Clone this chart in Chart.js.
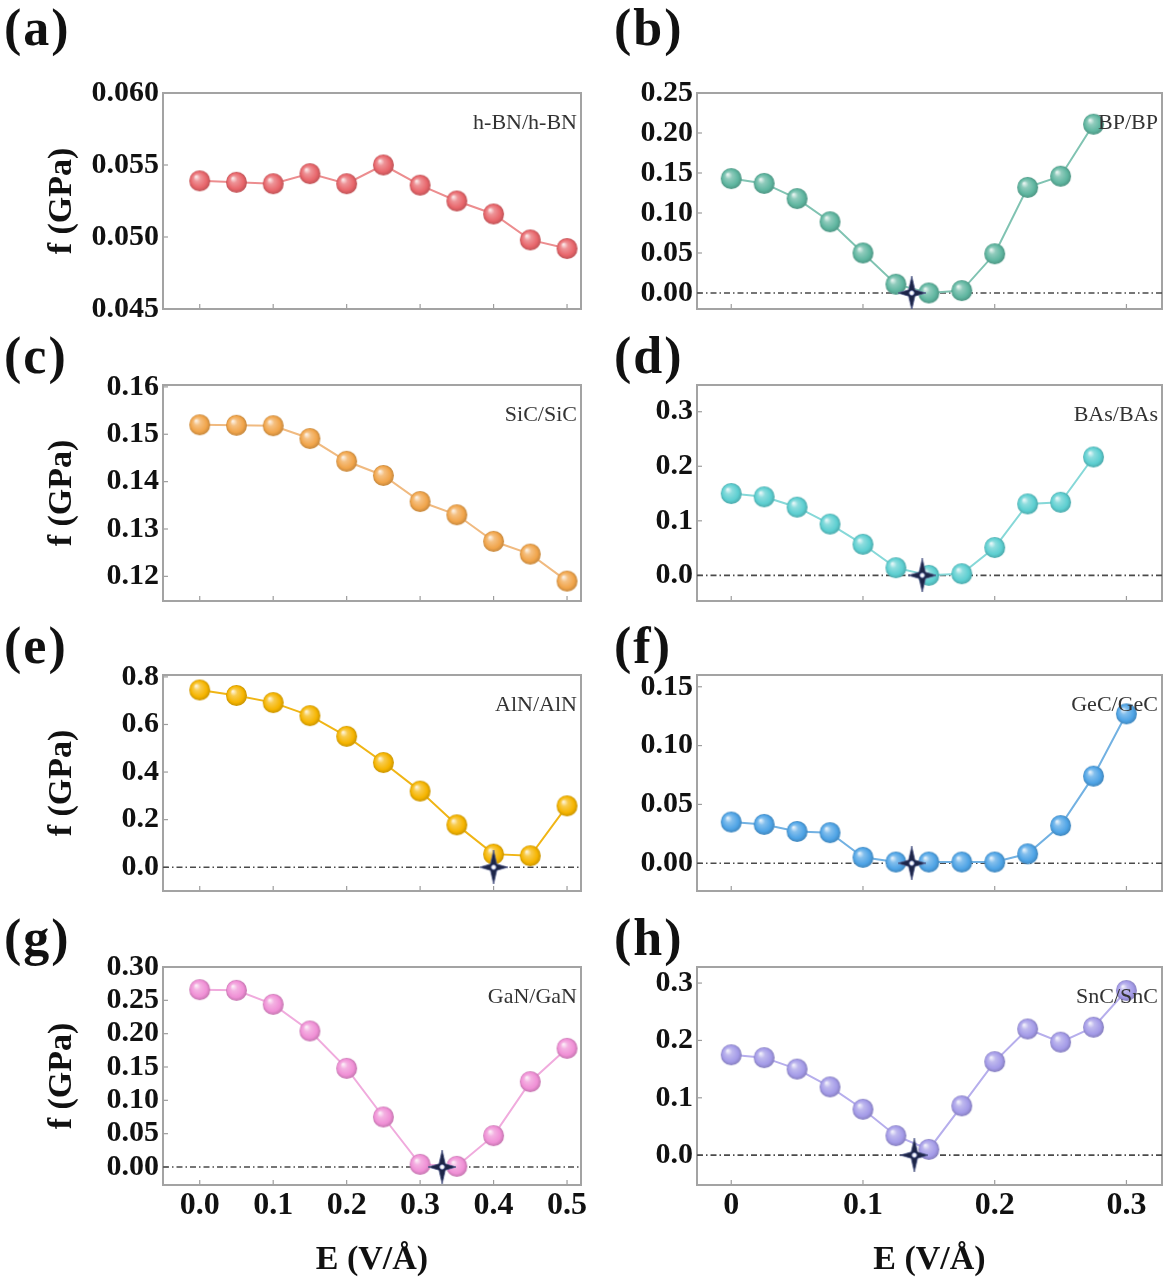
<!DOCTYPE html>
<html><head><meta charset="utf-8">
<script src="https://cdn.jsdelivr.net/npm/chart.js@4.4.1/dist/chart.umd.min.js"></script>
<style>
html,body{margin:0;padding:0;background:#fff;}
body{width:1164px;height:1283px;position:relative;overflow:hidden;}
canvas{position:absolute;}
.lbl{position:absolute;font-family:'Liberation Serif','Times New Roman',serif;font-weight:bold;font-size:52px;line-height:52px;letter-spacing:2px;color:#111;}
.ann{position:absolute;font-family:'Liberation Serif','Times New Roman',serif;font-size:22px;line-height:22px;color:#333;white-space:nowrap;}
</style></head><body>
<script>
// ---------- data ----------
const xLeft  = [0, 0.05, 0.1, 0.15, 0.2, 0.25, 0.3, 0.35, 0.4, 0.45, 0.5];
const xRight12 = [0, 0.025, 0.05, 0.075, 0.1, 0.125, 0.15, 0.175, 0.2, 0.225, 0.25, 0.275];
const xRight13 = [0, 0.025, 0.05, 0.075, 0.1, 0.125, 0.15, 0.175, 0.2, 0.225, 0.25, 0.275, 0.3];

const hBN = [0.0539, 0.0538, 0.0537, 0.0544, 0.0537, 0.0550, 0.0536, 0.0525, 0.0516, 0.0498, 0.0492];
const BP  = [0.143, 0.137, 0.118, 0.089, 0.050, 0.011, 0.000, 0.003, 0.049, 0.132, 0.146, 0.211];
const SiC = [0.1520, 0.1519, 0.1518, 0.1491, 0.1443, 0.1413, 0.1358, 0.1330, 0.1274, 0.1247, 0.1190];
const BAs = [0.150, 0.144, 0.125, 0.094, 0.057, 0.014, 0.000, 0.003, 0.051, 0.131, 0.134, 0.217];
const AlN = [0.745, 0.722, 0.692, 0.637, 0.550, 0.440, 0.320, 0.178, 0.055, 0.048, 0.258];
const GeC = [0.035, 0.033, 0.027, 0.026, 0.005, 0.001, 0.001, 0.001, 0.001, 0.008, 0.032, 0.074, 0.127];
const GaN = [0.266, 0.265, 0.244, 0.204, 0.148, 0.075, 0.004, 0.001, 0.047, 0.128, 0.178];
const SnC = [0.175, 0.170, 0.150, 0.119, 0.080, 0.034, 0.010, 0.086, 0.163, 0.220, 0.197, 0.223, 0.287];

// marked minimum points (x, y)
const starB = [0.137, 0];
const starD = [0.145, 0];
const starE = [0.400, 0];
const starF = [0.137, 0];
const starG = [0.330, 0];
const starH = [0.139, 0];

// tick labels
const xTicksLeft  = [0, 0.1, 0.2, 0.3, 0.4, 0.5];
const xTicksRight = [0, 0.1, 0.2, 0.3];
const yTicksA = [0.045, 0.050, 0.055, 0.060];
const yTicksB = [0, 0.05, 0.10, 0.15, 0.20, 0.25];
const yTicksC = [0.12, 0.13, 0.14, 0.15, 0.16];
const yTicksD = [0, 0.1, 0.2, 0.3];
const yTicksE = [0, 0.2, 0.4, 0.6, 0.8];
const yTicksF = [0, 0.05, 0.10, 0.15];
const yTicksG = [0, 0.05, 0.10, 0.15, 0.20, 0.25, 0.30];
const yTicksH = [0, 0.1, 0.2, 0.3];

// axis ranges
const xRangeLeft  = [-0.05, 0.519];
const xRangeRight = [-0.026, 0.327];
const yRangeA = [0.045, 0.060];
const yRangeB = [-0.02, 0.25];
const yRangeC = [0.1148, 0.1604];
const yRangeD = [-0.047, 0.349];
const yRangeE = [-0.10, 0.808];
const yRangeF = [-0.0236, 0.160];
const yRangeG = [-0.027, 0.300];
const yRangeH = [-0.052, 0.328];

const labelsAnn = ['h-BN/h-BN','BP/BP','SiC/SiC','BAs/BAs','AlN/AlN','GeC/GeC','GaN/GaN','SnC/SnC'];
const panelLetters = ['(a)','(b)','(c)','(d)','(e)','(f)','(g)','(h)'];
const yTitle = 'f (GPa)';
const xTitle = 'E (V/Å)';

// ---------- layout & style ----------
const FONT = "'Liberation Serif','Times New Roman',serif";
const colLeft  = {canvasLeft:0,   plotLeft:163, plotRight:581, canvasRight:602};
const colRight = {canvasLeft:585, plotLeft:697, plotRight:1162, canvasRight:1164};
const rowTops = [93, 385, 675, 967];
const letterTops = [2, 330, 620, 912];
const plotH = 218;

function shade(hex, amt){
  const n=parseInt(hex.slice(1),16); let r=n>>16,g=(n>>8)&255,b=n&255;
  if(amt>=0){r+=(255-r)*amt;g+=(255-g)*amt;b+=(255-b)*amt;}else{r*=1+amt;g*=1+amt;b*=1+amt;}
  return `rgb(${r|0},${g|0},${b|0})`;
}
function ball(hex, r){
  const c=document.createElement('canvas'); const s=Math.ceil(r*2+2); c.width=c.height=s;
  const x=c.getContext('2d'); const m=s/2;
  const g=x.createRadialGradient(m-r*0.35,m-r*0.4,r*0.05,m,m,r);
  g.addColorStop(0,shade(hex,0.85)); g.addColorStop(0.3,shade(hex,0.3));
  g.addColorStop(0.75,hex); g.addColorStop(1,shade(hex,-0.18));
  x.fillStyle=g; x.beginPath(); x.arc(m,m,r,0,Math.PI*2); x.fill();
  return c;
}
function starImg(){
  const c=document.createElement('canvas'); const w=28,h=34; c.width=w; c.height=h;
  const x=c.getContext('2d'); const cx=w/2, cy=h/2, k=3.2;
  x.beginPath(); x.moveTo(cx,0); x.lineTo(cx+k,cy-k); x.lineTo(w,cy); x.lineTo(cx+k,cy+k);
  x.lineTo(cx,h); x.lineTo(cx-k,cy+k); x.lineTo(0,cy); x.lineTo(cx-k,cy-k); x.closePath();
  x.fillStyle='#1d2548'; x.fill(); x.strokeStyle='#56608e'; x.lineWidth=0.8; x.stroke();
  x.beginPath(); x.arc(cx,cy,2.3,0,Math.PI*2); x.fillStyle='#ffffff'; x.fill();
  x.strokeStyle='#8f9bd0'; x.lineWidth=0.8; x.stroke();
  return c;
}
const STAR = starImg();

const panels = [
 {col:colLeft,  row:0, xs:xLeft,    ys:hBN, yr:yRangeA, yt:yTicksA, dec:3, ball:'#e8666b', line:'#ec8d8f', star:null},
 {col:colRight, row:0, xs:xRight12, ys:BP,  yr:yRangeB, yt:yTicksB, dec:2, ball:'#5fb6a0', line:'#80c3b2', star:starB},
 {col:colLeft,  row:1, xs:xLeft,    ys:SiC, yr:yRangeC, yt:yTicksC, dec:2, ball:'#f1a54b', line:'#f0ba80', star:null},
 {col:colRight, row:1, xs:xRight12, ys:BAs, yr:yRangeD, yt:yTicksD, dec:1, ball:'#5dcfd1', line:'#86d8d8', star:starD},
 {col:colLeft,  row:2, xs:xLeft,    ys:AlN, yr:yRangeE, yt:yTicksE, dec:1, ball:'#f6b500', line:'#f0b515', star:starE},
 {col:colRight, row:2, xs:xRight13, ys:GeC, yr:yRangeF, yt:yTicksF, dec:2, ball:'#4fa4e6', line:'#72b1e2', star:starF},
 {col:colLeft,  row:3, xs:xLeft,    ys:GaN, yr:yRangeG, yt:yTicksG, dec:2, ball:'#f090d6', line:'#f0abdd', star:starG},
 {col:colRight, row:3, xs:xRight13, ys:SnC, yr:yRangeH, yt:yTicksH, dec:1, ball:'#a49be8', line:'#b6aeec', star:starH},
];

const framePlugin = {
  id:'frame',
  beforeDatasetsDraw(chart){
    const {ctx, chartArea:a, scales:{x,y}} = chart;
    ctx.save(); ctx.strokeStyle='#9d9d9d'; ctx.lineWidth=1.2;
    x.ticks.forEach(t=>{const p=x.getPixelForValue(t.value); ctx.beginPath(); ctx.moveTo(p,a.bottom); ctx.lineTo(p,a.bottom-5); ctx.stroke();});
    y.ticks.forEach(t=>{const p=y.getPixelForValue(t.value); ctx.beginPath(); ctx.moveTo(a.left,p); ctx.lineTo(a.left+5,p); ctx.stroke();});
    ctx.lineWidth=2; ctx.strokeStyle='#a3a3a3';
    ctx.strokeRect(a.left,a.top,a.right-a.left,a.bottom-a.top);
    ctx.restore();
  }
};

panels.forEach((p,i)=>{
  const last = p.row===3;
  const isLeft = p.col===colLeft;
  const top = rowTops[p.row];
  const padTop = 22;
  const xAxisH = last ? (1283 - (top+plotH)) : 20;
  const cTop = top - padTop;
  const cH = padTop + plotH + xAxisH;
  const cW = p.col.canvasRight - p.col.canvasLeft;
  const yW = p.col.plotLeft - p.col.canvasLeft;

  const cv = document.createElement('canvas');
  cv.width = cW; cv.height = cH;
  cv.style.left = p.col.canvasLeft+'px'; cv.style.top = cTop+'px';
  cv.style.width = cW+'px'; cv.style.height = cH+'px';
  document.body.appendChild(cv);

  const xr = isLeft ? xRangeLeft : xRangeRight;
  const xt = isLeft ? xTicksLeft : xTicksRight;
  const datasets = [];
  if (p.star) datasets.push({data:[{x:p.star[0],y:p.star[1]}], showLine:false, pointStyle:STAR, pointRadius:14, order:0});
  datasets.push({data:p.xs.map((v,k)=>({x:v,y:p.ys[k]})), borderColor:p.line, borderWidth:2, pointStyle:ball(p.ball,10.5), pointRadius:11, order:1});
  if (p.star) datasets.push({data:[{x:xr[0],y:0},{x:xr[1],y:0}], borderColor:'#4a4a4a', borderWidth:1.6, borderDash:[6,3,1.5,3], pointRadius:0, order:2});

  new Chart(cv, {
    type:'line',
    data:{datasets},
    options:{
      responsive:false, animation:false, devicePixelRatio:1,
      layout:{autoPadding:false, padding:{top:padTop, right:p.col.canvasRight-p.col.plotRight, bottom:0, left:0}},
      plugins:{legend:{display:false}, tooltip:{enabled:false}},
      elements:{line:{tension:0}},
      scales:{
        x:{type:'linear', min:xr[0], max:xr[1],
          grid:{display:false, drawTicks:false}, border:{display:false},
          afterBuildTicks:s=>{s.ticks = xt.map(v=>({value:v}));},
          afterFit:s=>{s.height = xAxisH; s.paddingLeft = 0; s.paddingRight = 0;},
          ticks:{display:last, autoSkip:false, maxRotation:0, padding:2, color:'#111', font:{family:FONT, size:32, weight:'bold'},
            callback:v=> isLeft ? v.toFixed(1) : (v===0 ? '0' : v.toFixed(1))},
          title:{display:last, text:xTitle, color:'#111', font:{family:FONT, size:34, weight:'bold'}, padding:{top:0,bottom:2}}
        },
        y:{type:'linear', min:p.yr[0], max:p.yr[1],
          grid:{display:false, drawTicks:false}, border:{display:false},
          afterBuildTicks:s=>{s.ticks = p.yt.map(v=>({value:v}));},
          afterFit:s=>{s.width = yW;},
          ticks:{autoSkip:false, padding:4, color:'#111', font:{family:FONT, size:30, weight:'bold'}, callback:v=>v.toFixed(p.dec)},
          title:{display:isLeft, text:yTitle, color:'#111', font:{family:FONT, size:34, weight:'bold'}, padding:{top:42,bottom:0}}
        }
      }
    },
    plugins:[framePlugin]
  });

  const lb = document.createElement('div');
  lb.className='lbl'; lb.textContent = panelLetters[i];
  lb.style.left = (isLeft ? 4 : 614)+'px';
  lb.style.top = letterTops[p.row]+'px';
  document.body.appendChild(lb);

  const an = document.createElement('div');
  an.className='ann'; an.textContent = labelsAnn[i];
  an.style.right = (1164 - p.col.plotRight + 4)+'px';
  an.style.top = (top + 18)+'px';
  document.body.appendChild(an);
});
</script>
</body></html>
